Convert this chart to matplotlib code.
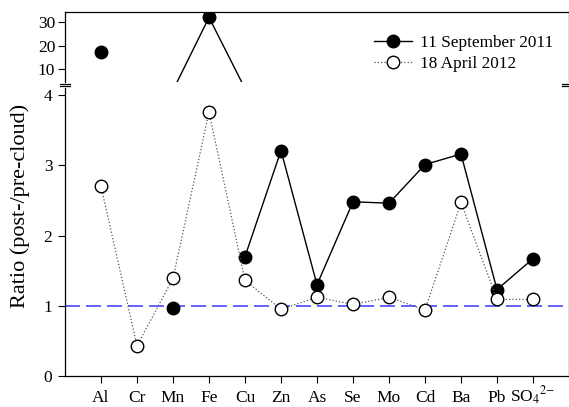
import numpy as np
import matplotlib
matplotlib.use("Agg")
import matplotlib.pyplot as plt

plt.rcParams['font.family'] = ['Liberation Serif', 'DejaVu Serif']
plt.rcParams['mathtext.fontset'] = 'stix'

elementos = ['Al', 'Cr', 'Mn', 'Fe', 'Cu', 'Zn', 'As', 'Se', 'Mo', 'Cd', 'Ba', 'Pb', r'SO$_4$$^{2\mathrm{-}}$']
set_2011 = [17.1, np.nan, 0.97, 32.0, 1.70, 3.21, 1.30, 2.48, 2.46, 3.01, 3.16, 1.23, 1.67]
abr_2012 = [2.70, 0.43, 1.39, 3.76, 1.36, 0.95, 1.12, 1.02, 1.12, 0.94, 2.47, 1.09, 1.09]

x = np.arange(1, len(elementos) + 1)
s11 = np.array(set_2011)
a12 = np.array(abr_2012)

lim_baixo = (0, 4.1)
lim_alto = (4.5, 34.3)

fig = plt.figure(figsize=(5.69, 4.07), dpi=100)
ax_alto = fig.add_axes([65/569, 0.7985, 1 - 65/569, 0.172])
ax_baixo = fig.add_axes([65/569, 0.0762, 1 - 65/569, 0.7076])

marc_s = dict(marker='o', markersize=9, markerfacecolor='black', markeredgecolor='black')
marc_a = dict(marker='o', markersize=9, markerfacecolor='white',
              markeredgecolor='black', markeredgewidth=1.0)
linha_s = dict(color='black', lw=1.0)
linha_a = dict(color='#555555', lw=0.9, ls=':')

# painel de cima: linhas da serie inteira (recortadas), marcadores so dentro da escala
ax_alto.plot(x, s11, **linha_s)
ax_alto.plot(x, a12, **linha_a)
ax_alto.plot(x, np.where(s11 >= lim_alto[0], s11, np.nan), ls='none', **marc_s)
ax_alto.plot(x, np.where(a12 >= lim_alto[0], a12, np.nan), ls='none', **marc_a)

# painel de baixo: sem os pontos fora de escala
s_baixo = np.where(s11 > lim_baixo[1], np.nan, s11)
a_baixo = np.where(a12 > lim_baixo[1], np.nan, a12)
ax_baixo.axhline(1, color='#4848ff', lw=1.2, dashes=(9, 3.6), zorder=1)
l1, = ax_baixo.plot(x, s_baixo, label='11 September 2011', **linha_s, **marc_s)
l2, = ax_baixo.plot(x, a_baixo, label='18 April 2012', **linha_a, **marc_a)

for ax in (ax_alto, ax_baixo):
    ax.set_xlim(0, 14)
    ax.tick_params(direction='out', labelsize=12.5, length=5, width=0.8)
    for sp in ax.spines.values():
        sp.set_linewidth(0.9)

ax_alto.set_ylim(*lim_alto)
ax_alto.set_yticks([10, 20, 30])
ax_alto.set_xticks([])
ax_alto.spines['bottom'].set_visible(False)
ax_alto.tick_params(axis='y', pad=2)

ax_baixo.set_ylim(*lim_baixo)
ax_baixo.set_yticks([0, 1, 2, 3, 4])
ax_baixo.set_xticks(x)
ax_baixo.set_xticklabels(elementos)
ax_baixo.spines['top'].set_visible(False)
ax_baixo.tick_params(axis='x', pad=13.5)
for rot in ax_baixo.get_xticklabels():
    rot.set_va('baseline')
ax_baixo.tick_params(axis='y', pad=4)
ax_baixo.set_ylabel('Ratio (post-/pre-cloud)', fontsize=16)
ax_baixo.yaxis.set_label_coords(-0.070, 0.59)

# marcas de quebra
for xf in (65/569, 0.9975):
    for yf in (0.7875, 0.7935):
        fig.add_artist(plt.Line2D([xf - 0.009, xf + 0.009], [yf, yf],
                                  color='black', lw=0.9, transform=fig.transFigure))

fig.legend(handles=[l1, l2], loc='upper left', bbox_to_anchor=(0.645, 0.93),
           frameon=False, fontsize=12.4, handlelength=2.2, handletextpad=0.5,
           labelspacing=0.25, borderaxespad=0)

fig.savefig('out.png', dpi=100)
